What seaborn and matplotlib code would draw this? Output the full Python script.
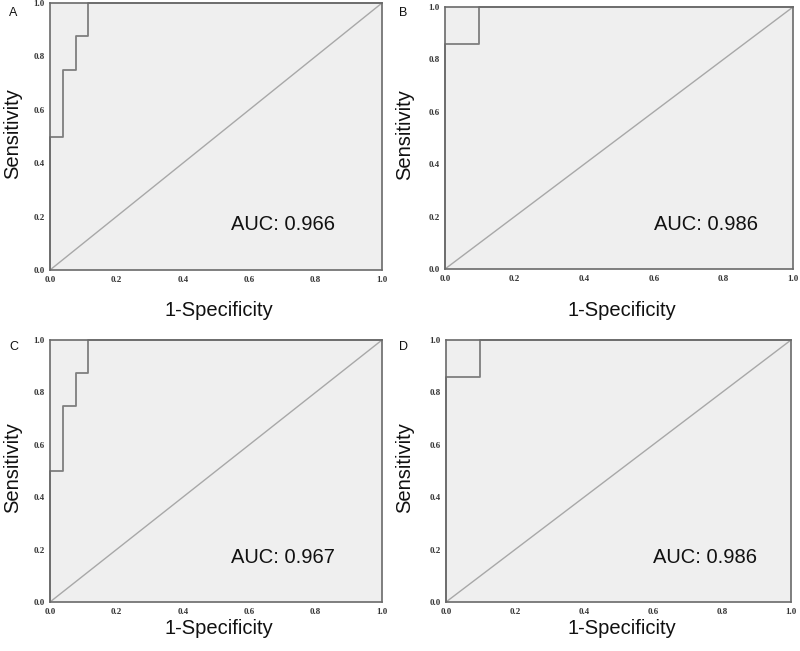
import matplotlib
matplotlib.use('Agg')
import matplotlib.pyplot as plt
import seaborn as sns

sns.set_style('white')
plt.rcParams['font.family'] = ['Liberation Sans', 'DejaVu Sans']

# ROC vertices
fpr_a = [0.0, 0.0, 0.038, 0.038, 0.077, 0.077, 0.115, 0.115, 1.0]
tpr_a = [0.0, 0.5, 0.5, 0.75, 0.75, 0.875, 0.875, 1.0, 1.0]
fpr_b = [0.0, 0.0, 0.098, 0.098, 1.0]
tpr_b = [0.0, 0.857, 0.857, 1.0, 1.0]
fpr_c = [0.0, 0.0, 0.038, 0.038, 0.077, 0.077, 0.115, 0.115, 1.0]
tpr_c = [0.0, 0.5, 0.5, 0.75, 0.75, 0.875, 0.875, 1.0, 1.0]
fpr_d = [0.0, 0.0, 0.098, 0.098, 1.0]
tpr_d = [0.0, 0.857, 0.857, 1.0, 1.0]

letters = ['A', 'B', 'C', 'D']
auc_values = ['0.966', '0.986', '0.967', '0.986']
ticks = [0.0, 0.2, 0.4, 0.6, 0.8, 1.0]

W, H = 800, 651
# pixel boxes: left, right, top, bottom
boxes = [(50, 382, 3, 270), (445, 793, 7, 269), (50, 382, 340, 602), (446, 791, 340, 602)]
auc_x = [231, 654, 231, 653]
ylab_x = [13, 405, 13, 405]
xlab_y = [310, 310, 629, 629]
letter_xy = [(9, 13), (399, 13), (9, 347), (399, 347)]

fig = plt.figure(figsize=(8, 6.51), dpi=100)

curves = [(fpr_a, tpr_a), (fpr_b, tpr_b), (fpr_c, tpr_c), (fpr_d, tpr_d)]
for i, (fx, ty) in enumerate(curves):
    l, r, t, b = boxes[i]
    ax = fig.add_axes([l / W, 1 - b / H, (r - l) / W, (b - t) / H])
    ax.set_facecolor('#efefef')
    sns.lineplot(x=[0, 1], y=[0, 1], ax=ax, color='#a8a8a8', linewidth=1.0,
                 estimator=None, sort=False)
    sns.lineplot(x=fx, y=ty, ax=ax, color='#7f7f7f', linewidth=1.3,
                 estimator=None, sort=False, clip_on=False)
    ax.set_xlim(0, 1)
    ax.set_ylim(0, 1)
    ax.set_xticks(ticks)
    ax.set_yticks(ticks)
    ax.set_xticklabels([f'{v:.1f}' for v in ticks], fontsize=6.5, fontweight='bold',
                       family='Liberation Serif', color='#333333')
    ax.set_yticklabels([f'{v:.1f}' for v in ticks], fontsize=6.5, fontweight='bold',
                       family='Liberation Serif', color='#333333')
    ax.tick_params(direction='out', length=3, width=0.8, color='#555555', pad=1)
    for s in ax.spines.values():
        s.set_color('#6a6a6a')
        s.set_linewidth(1.2)
    ax.set_xlabel('1-Specificity', fontsize=14.5, color='#111111', va='center')
    ax.set_ylabel('Sensitivity', fontsize=14.5, color='#111111', va='center')
    ax.xaxis.set_label_coords((l + r) / 2 / W + 0.004, 1 - xlab_y[i] / H,
                              transform=fig.transFigure)
    ax.yaxis.set_label_coords(ylab_x[i] / W, 1 - ((t + b) / 2 - 3) / H,
                              transform=fig.transFigure)
    ax.text((auc_x[i] - l) / (r - l), 0.17, f'AUC: {auc_values[i]}', fontsize=14.5,
            transform=ax.transAxes, va='center', ha='left', color='#111111')
    fig.text(letter_xy[i][0] / W, 1 - letter_xy[i][1] / H, letters[i], fontsize=9,
             va='center', ha='left', color='#111111')

fig.savefig('out.png', dpi=100)
